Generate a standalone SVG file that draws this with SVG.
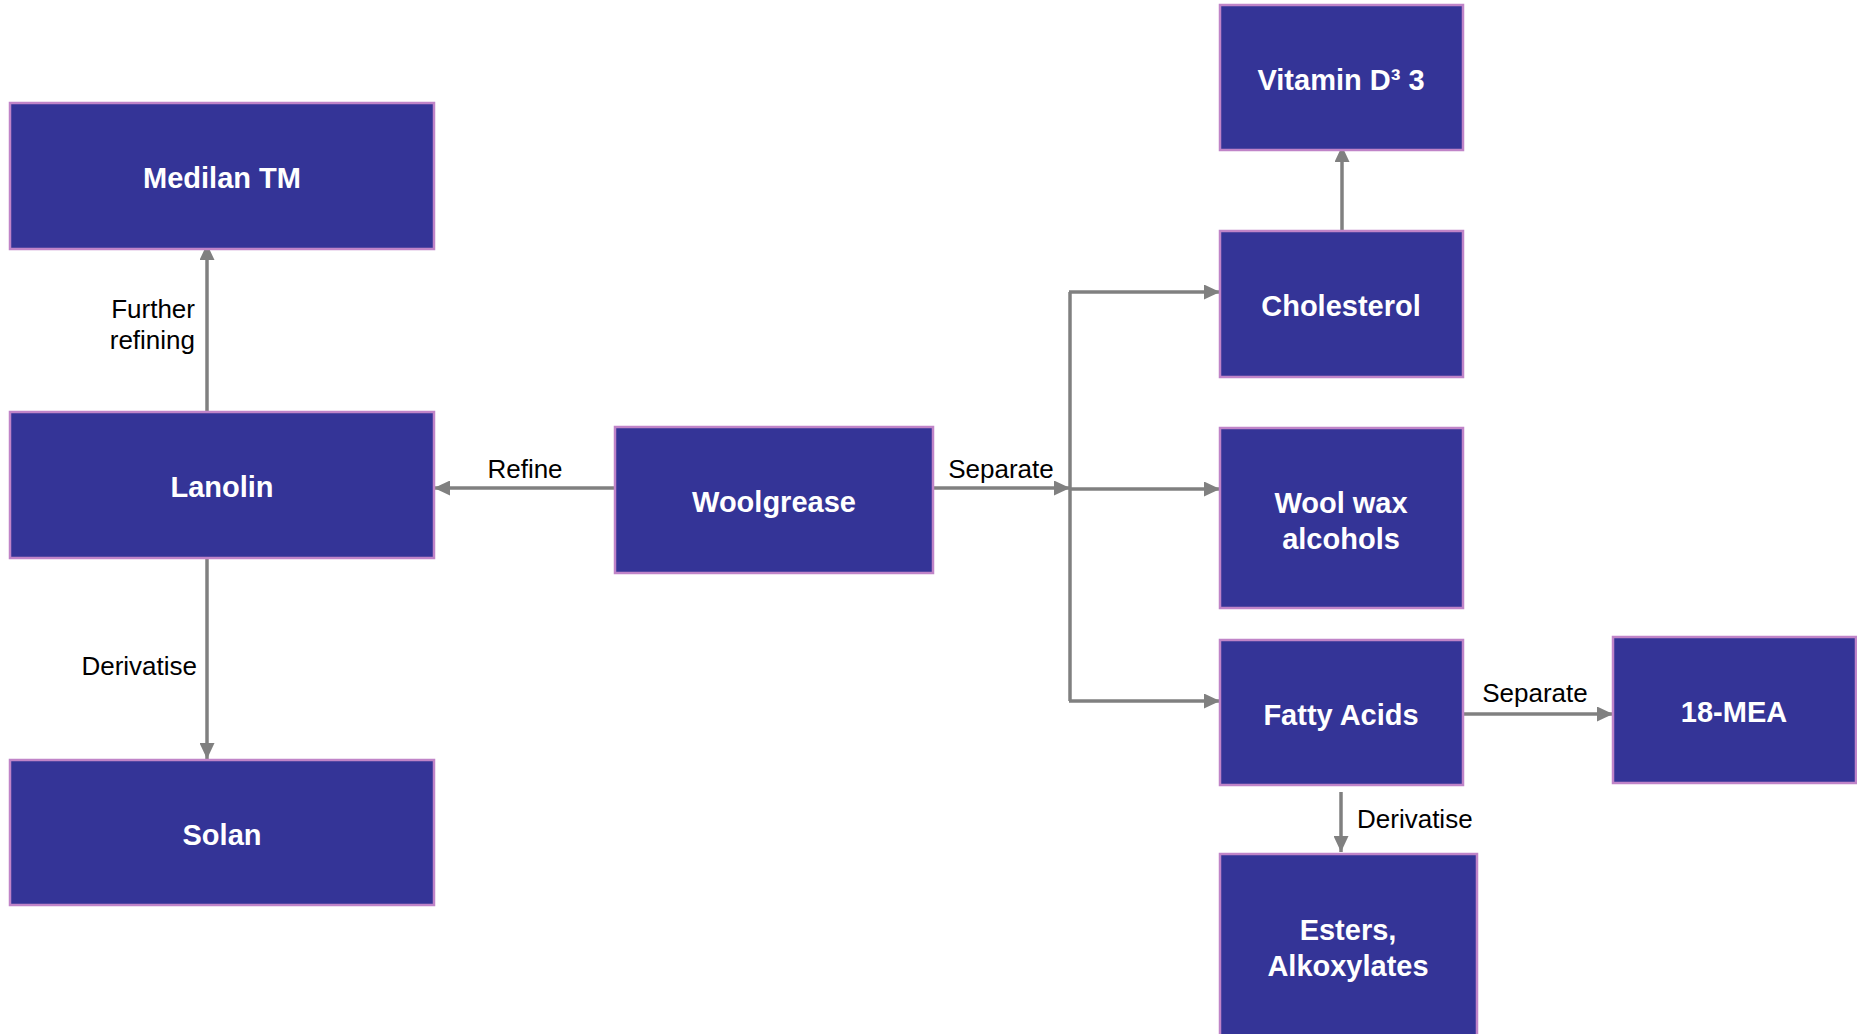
<svg xmlns="http://www.w3.org/2000/svg" width="1857" height="1034" viewBox="0 0 1857 1034">
<style>
.box{fill:#343497;stroke:#c084c8;stroke-width:2.5}
.nt{font-family:"Liberation Sans",Arial,sans-serif;font-weight:bold;font-size:29px;fill:#ffffff;text-anchor:middle}
.el{font-family:"Liberation Sans",Arial,sans-serif;font-size:26px;fill:#000000}
.c{fill:none;stroke:#808080;stroke-width:3.5}
</style>
<defs>
<marker id="ah" viewBox="0 0 16 15" refX="16" refY="7.5" markerWidth="16" markerHeight="15" orient="auto" markerUnits="userSpaceOnUse">
<path d="M0,0 L16,7.5 L0,15 z" fill="#808080"/>
</marker>
</defs>
<rect width="1857" height="1034" fill="#ffffff"/>
<g id="connectors">
<path class="c" d="M207,412 L207,244" marker-end="url(#ah)"/>
<path class="c" d="M207,558 L207,759" marker-end="url(#ah)"/>
<path class="c" d="M615,488 L434,488" marker-end="url(#ah)"/>
<path class="c" d="M933,488 L1070,488" marker-end="url(#ah)"/>
<path class="c" d="M1070,292 L1070,701"/>
<path class="c" d="M1069,292 L1220,292" marker-end="url(#ah)"/>
<path class="c" d="M1070,489 L1220,489" marker-end="url(#ah)"/>
<path class="c" d="M1069,701 L1220,701" marker-end="url(#ah)"/>
<path class="c" d="M1342,232 L1342,146" marker-end="url(#ah)"/>
<path class="c" d="M1463,714 L1613,714" marker-end="url(#ah)"/>
<path class="c" d="M1341,792 L1341,852" marker-end="url(#ah)"/>
<text class="el" x="195" y="318" text-anchor="end">Further</text>
<text class="el" x="195" y="349" text-anchor="end">refining</text>
<text class="el" x="197" y="675" text-anchor="end">Derivatise</text>
<text class="el" x="525" y="478" text-anchor="middle">Refine</text>
<text class="el" x="1001" y="478" text-anchor="middle">Separate</text>
<text class="el" x="1535" y="702" text-anchor="middle">Separate</text>
<text class="el" x="1357" y="828">Derivatise</text>
</g>
<g id="medilan"><rect class="box" x="10" y="103" width="424" height="146"/><text class="nt" x="222" y="188">Medilan TM</text></g>
<g id="lanolin"><rect class="box" x="10" y="412" width="424" height="146"/><text class="nt" x="222" y="497">Lanolin</text></g>
<g id="solan"><rect class="box" x="10" y="760" width="424" height="145"/><text class="nt" x="222" y="845">Solan</text></g>
<g id="woolgrease"><rect class="box" x="615" y="427" width="318" height="146"/><text class="nt" x="774" y="512">Woolgrease</text></g>
<g id="vitamin"><rect class="box" x="1220" y="5" width="243" height="145"/><text class="nt" x="1341" y="90">Vitamin D³ 3</text></g>
<g id="cholesterol"><rect class="box" x="1220" y="231" width="243" height="146"/><text class="nt" x="1341" y="316">Cholesterol</text></g>
<g id="woolwax"><rect class="box" x="1220" y="428" width="243" height="180"/><text class="nt" x="1341" y="513">Wool wax</text><text class="nt" x="1341" y="549">alcohols</text></g>
<g id="fattyacids"><rect class="box" x="1220" y="640" width="243" height="145"/><text class="nt" x="1341" y="725">Fatty Acids</text></g>
<g id="mea"><rect class="box" x="1613" y="637" width="243" height="146"/><text class="nt" x="1734" y="722">18-MEA</text></g>
<g id="esters"><rect class="box" x="1220" y="854" width="257" height="192"/><text class="nt" x="1348" y="940">Esters,</text><text class="nt" x="1348" y="976">Alkoxylates</text></g>
</svg>
